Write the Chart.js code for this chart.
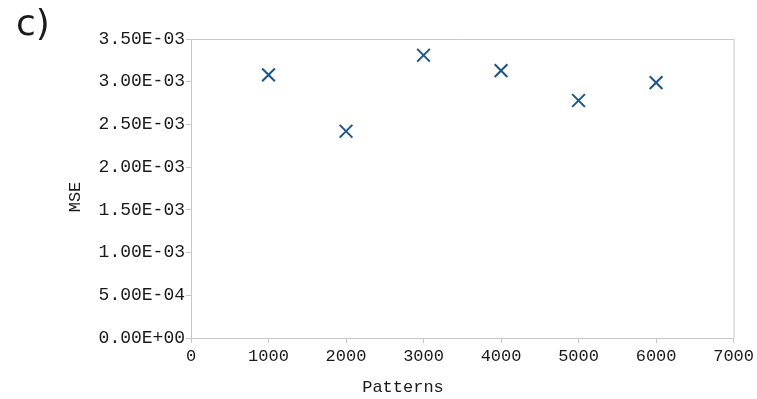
<!DOCTYPE html>
<html>
<head>
<meta charset="utf-8">
<script src="https://cdn.jsdelivr.net/npm/chart.js@4/dist/chart.umd.min.js"></script>
<style>
  html, body { margin: 0; padding: 0; background: #fff; }
  #wrap { width: 757px; height: 399px; }
</style>
</head>
<body>
<div id="wrap"><canvas id="mseChart"></canvas></div>
<script>
const patterns = [1000, 2000, 3000, 4000, 5000, 6000];
const mse = [3.08e-3, 2.42e-3, 3.31e-3, 3.13e-3, 2.78e-3, 2.99e-3];
const xTicks = [0, 1000, 2000, 3000, 4000, 5000, 6000, 7000];
const yTicks = [0, 5e-4, 1e-3, 1.5e-3, 2e-3, 2.5e-3, 3e-3, 3.5e-3];

const mono = "'Liberation Mono', 'DejaVu Sans Mono', monospace";
const axisGrey = '#c8c8c8';

// 3.5e-3 -> "3.50E-03"
function sciLabel(v) {
  if (Math.abs(v) < 1e-12) return '0.00E+00';
  const parts = v.toExponential(2).split('e');
  const exp = parseInt(parts[1], 10);
  const sign = exp < 0 ? '-' : '+';
  return parts[0] + 'E' + sign + String(Math.abs(exp)).padStart(2, '0');
}

const extras = {
  id: 'extras',
  afterDraw(chart) {
    const { ctx, chartArea } = chart;
    ctx.save();
    // top and right frame
    ctx.strokeStyle = axisGrey;
    ctx.lineWidth = 1;
    ctx.beginPath();
    ctx.moveTo(chartArea.left, chartArea.top + 0.5);
    ctx.lineTo(chartArea.right + 0.5, chartArea.top + 0.5);
    ctx.lineTo(chartArea.right + 0.5, chartArea.bottom);
    ctx.stroke();

    ctx.fillStyle = '#1a1a1a';
    ctx.font = "36px 'DejaVu Sans', sans-serif";
    ctx.textAlign = 'left';
    ctx.textBaseline = 'alphabetic';
    ctx.fillText('c)', 16, 35);

    ctx.font = '17px ' + mono;
    ctx.textAlign = 'center';
    ctx.textBaseline = 'middle';
    ctx.fillText('Patterns', 403, 387);

    ctx.translate(75, 197);
    ctx.rotate(-Math.PI / 2);
    ctx.fillText('MSE', 0, 0);
    ctx.restore();
  }
};

new Chart(document.getElementById('mseChart'), {
  type: 'scatter',
  data: {
    datasets: [{
      label: 'MSE',
      data: patterns.map((p, i) => ({ x: p, y: mse[i] })),
      pointStyle: 'crossRot',
      pointRadius: 9,
      pointHoverRadius: 9,
      pointBorderWidth: 2,
      borderColor: '#1b5591',
      backgroundColor: '#1b5591'
    }]
  },
  options: {
    responsive: true,
    maintainAspectRatio: false,
    animation: false,
    layout: { padding: { top: 39, right: 23, left: 0, bottom: 0 } },
    plugins: { legend: { display: false }, tooltip: { enabled: false } },
    scales: {
      x: {
        type: 'linear',
        min: 0,
        max: 7000,
        afterBuildTicks: axis => { axis.ticks = xTicks.map(v => ({ value: v })); },
        afterFit: axis => { axis.height = 61; },
        ticks: {
          color: '#1a1a1a',
          font: { family: mono, size: 17 },
          padding: 3,
          maxRotation: 0,
          callback: v => String(v)
        },
        grid: { drawOnChartArea: false, tickLength: 5, color: axisGrey },
        border: { color: axisGrey }
      },
      y: {
        type: 'linear',
        min: 0,
        max: 3.5e-3,
        afterBuildTicks: axis => { axis.ticks = yTicks.map(v => ({ value: v })); },
        afterFit: axis => { axis.width = 191; },
        ticks: {
          color: '#1a1a1a',
          font: { family: mono, size: 18 },
          padding: 1,
          callback: v => sciLabel(v)
        },
        grid: { drawOnChartArea: false, tickLength: 5, color: axisGrey },
        border: { color: axisGrey }
      }
    }
  },
  plugins: [extras]
});
</script>
</body>
</html>
